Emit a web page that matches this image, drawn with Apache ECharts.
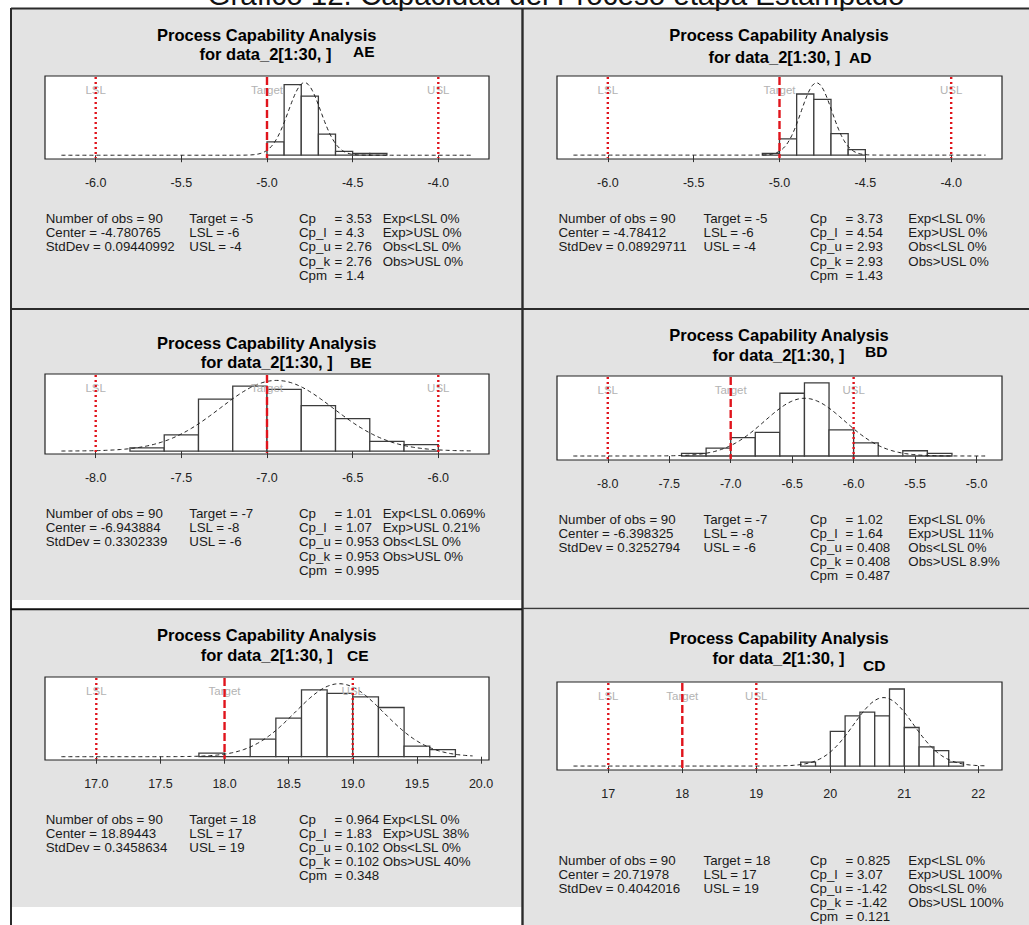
<!DOCTYPE html>
<html>
<head>
<meta charset="utf-8">
<script src="https://cdn.jsdelivr.net/npm/echarts@6/dist/echarts.min.js"></script>
<style>
  html, body { margin: 0; padding: 0; background: #ffffff; }
  #chart { width: 1029px; height: 925px; }
</style>
</head>
<body>
<div id="chart"></div>
<script>
// ---------------- data ----------------
const N_OBS = 90;
const SPEC_NAMES = ['LSL', 'Target', 'USL'];
const INDEX_NAMES = ['Cp', 'Cp_l', 'Cp_u', 'Cp_k', 'Cpm'];

// AE
const AE_BIN_START = -5.0, AE_BIN_WIDTH = 0.1;
const AE_COUNTS = [7, 37, 31, 11, 2, 1, 1];
const AE_LIMITS = [-6, -5, -4];            // LSL, Target, USL
const AE_FIT = [-4.780765, 0.09440992];    // center, std dev
const AE_TICKS = [-6, -5.5, -5, -4.5, -4];
const AE_SUMMARY = ['Number of obs = 90', 'Center = -4.780765', 'StdDev = 0.09440992'];
const AE_SPECS = ['Target = -5', 'LSL = -6', 'USL = -4'];
const AE_INDICES = ['3.53', '4.3', '2.76', '2.76', '1.4'];
const AE_PERCENTS = ['Exp<LSL 0%', 'Exp>USL 0%', 'Obs<LSL 0%', 'Obs>USL 0%'];

// AD
const AD_BIN_START = -5.1, AD_BIN_WIDTH = 0.1;
const AD_COUNTS = [1, 9, 34, 31, 12, 3];
const AD_LIMITS = [-6, -5, -4];
const AD_FIT = [-4.78412, 0.08929711];
const AD_TICKS = [-6, -5.5, -5, -4.5, -4];
const AD_SUMMARY = ['Number of obs = 90', 'Center = -4.78412', 'StdDev = 0.08929711'];
const AD_SPECS = ['Target = -5', 'LSL = -6', 'USL = -4'];
const AD_INDICES = ['3.73', '4.54', '2.93', '2.93', '1.43'];
const AD_PERCENTS = ['Exp<LSL 0%', 'Exp>USL 0%', 'Obs<LSL 0%', 'Obs>USL 0%'];

// BE
const BE_BIN_START = -7.8, BE_BIN_WIDTH = 0.2;
const BE_COUNTS = [1, 5, 16, 20, 19, 14, 10, 3, 2];
const BE_LIMITS = [-8, -7, -6];
const BE_FIT = [-6.943884, 0.3302339];
const BE_TICKS = [-8, -7.5, -7, -6.5, -6];
const BE_SUMMARY = ['Number of obs = 90', 'Center = -6.943884', 'StdDev = 0.3302339'];
const BE_SPECS = ['Target = -7', 'LSL = -8', 'USL = -6'];
const BE_INDICES = ['1.01', '1.07', '0.953', '0.953', '0.995'];
const BE_PERCENTS = ['Exp<LSL 0.069%', 'Exp>USL 0.21%', 'Obs<LSL 0%', 'Obs>USL 0%'];

// BD
const BD_BIN_START = -7.4, BD_BIN_WIDTH = 0.2;
const BD_COUNTS = [1, 3, 7, 9, 24, 28, 10, 5, 0, 2, 1];
const BD_LIMITS = [-8, -7, -6];
const BD_FIT = [-6.398325, 0.3252794];
const BD_TICKS = [-8, -7.5, -7, -6.5, -6, -5.5, -5];
const BD_SUMMARY = ['Number of obs = 90', 'Center = -6.398325', 'StdDev = 0.3252794'];
const BD_SPECS = ['Target = -7', 'LSL = -8', 'USL = -6'];
const BD_INDICES = ['1.02', '1.64', '0.408', '0.408', '0.487'];
const BD_PERCENTS = ['Exp<LSL 0%', 'Exp>USL 11%', 'Obs<LSL 0%', 'Obs>USL 8.9%'];

// CE
const CE_BIN_START = 17.8, CE_BIN_WIDTH = 0.2;
const CE_COUNTS = [1, 0, 5, 11, 19, 18, 17, 14, 3, 2];
const CE_LIMITS = [17, 18, 19];
const CE_FIT = [18.89443, 0.3458634];
const CE_TICKS = [17, 17.5, 18, 18.5, 19, 19.5, 20];
const CE_SUMMARY = ['Number of obs = 90', 'Center = 18.89443', 'StdDev = 0.3458634'];
const CE_SPECS = ['Target = 18', 'LSL = 17', 'USL = 19'];
const CE_INDICES = ['0.964', '1.83', '0.102', '0.102', '0.348'];
const CE_PERCENTS = ['Exp<LSL 0%', 'Exp>USL 38%', 'Obs<LSL 0%', 'Obs>USL 40%'];

// CD
const CD_BIN_START = 19.6, CD_BIN_WIDTH = 0.2;
const CD_COUNTS = [1, 0, 9, 13, 14, 13, 20, 10, 5, 4, 1];
const CD_LIMITS = [17, 18, 19];
const CD_FIT = [20.71978, 0.4042016];
const CD_TICKS = [17, 18, 19, 20, 21, 22];
const CD_SUMMARY = ['Number of obs = 90', 'Center = 20.71978', 'StdDev = 0.4042016'];
const CD_SPECS = ['Target = 18', 'LSL = 17', 'USL = 19'];
const CD_INDICES = ['0.825', '3.07', '-1.42', '-1.42', '0.121'];
const CD_PERCENTS = ['Exp<LSL 0%', 'Exp>USL 100%', 'Obs<LSL 0%', 'Obs>USL 100%'];

// ---------------- layout ----------------
const FONT = '"Liberation Sans", Arial, Helvetica, sans-serif';
const LEFT_COLS = [45.7, 189.3, 299, 382.7];
const RIGHT_COLS = [558.5, 703.5, 810, 908.3];

const panels = [
  { code: 'AE', start: AE_BIN_START, width: AE_BIN_WIDTH, counts: AE_COUNTS, limits: AE_LIMITS, fit: AE_FIT, ticks: AE_TICKS, digits: 1,
    summary: AE_SUMMARY, specs: AE_SPECS, indices: AE_INDICES, percents: AE_PERCENTS,
    grid: [45, 76, 444, 83], xr: [-6.296, -3.704], curve: [-6.2, -3.8], yr: [-0.22, 4.61],
    tx: 266.7, ty: [35, 54], l2x: 265.5, cx: 353, cy: 51.5, sy: 218.5, cols: LEFT_COLS },
  { code: 'AD', start: AD_BIN_START, width: AD_BIN_WIDTH, counts: AD_COUNTS, limits: AD_LIMITS, fit: AD_FIT, ticks: AD_TICKS, digits: 1,
    summary: AD_SUMMARY, specs: AD_SPECS, indices: AD_INDICES, percents: AD_PERCENTS,
    grid: [557, 76, 445, 83], xr: [-6.296, -3.704], curve: [-6.2, -3.8], yr: [-0.24, 4.89],
    tx: 779, ty: [35, 56.5], l2x: 774.5, cx: 849, cy: 57, sy: 218.5, cols: RIGHT_COLS },
  { code: 'BE', start: BE_BIN_START, width: BE_BIN_WIDTH, counts: BE_COUNTS, limits: BE_LIMITS, fit: BE_FIT, ticks: BE_TICKS, digits: 1,
    summary: BE_SUMMARY, specs: BE_SPECS, indices: BE_INDICES, percents: BE_PERCENTS,
    grid: [45, 374, 444, 80], xr: [-8.296, -5.704], curve: [-8.2, -5.8], yr: [-0.05, 1.318],
    tx: 266.7, ty: [342.5, 361.5], l2x: 266.7, cx: 350, cy: 362, sy: 513.5, cols: LEFT_COLS },
  { code: 'BD', start: BD_BIN_START, width: BD_BIN_WIDTH, counts: BD_COUNTS, limits: BD_LIMITS, fit: BD_FIT, ticks: BD_TICKS, digits: 1,
    summary: BD_SUMMARY, specs: BD_SPECS, indices: BD_INDICES, percents: BD_PERCENTS,
    grid: [557, 376, 445, 84], xr: [-8.413, -4.793], curve: [-8.28, -4.93], yr: [-0.085, 1.70],
    tx: 779, ty: [335, 355], l2x: 778.5, cx: 865, cy: 351.5, sy: 519, cols: RIGHT_COLS },
  { code: 'CE', start: CE_BIN_START, width: CE_BIN_WIDTH, counts: CE_COUNTS, limits: CE_LIMITS, fit: CE_FIT, ticks: CE_TICKS, digits: 1,
    summary: CE_SUMMARY, specs: CE_SPECS, indices: CE_INDICES, percents: CE_PERCENTS,
    grid: [45, 677, 444, 83], xr: [16.600, 20.062], curve: [16.728, 19.934], yr: [-0.052, 1.26],
    tx: 266.7, ty: [635, 655], l2x: 266.7, cx: 347, cy: 655, sy: 819, cols: LEFT_COLS },
  { code: 'CD', start: CD_BIN_START, width: CD_BIN_WIDTH, counts: CD_COUNTS, limits: CD_LIMITS, fit: CD_FIT, ticks: CD_TICKS, digits: 0,
    summary: CD_SUMMARY, specs: CD_SPECS, indices: CD_INDICES, percents: CD_PERCENTS,
    grid: [557, 682, 445, 88], xr: [16.307, 22.32], curve: [16.53, 22.10], yr: [-0.057, 1.212],
    tx: 779, ty: [637.5, 657.5], l2x: 778.5, cx: 863, cy: 665, sy: 860, cols: RIGHT_COLS }
];

// fitted normal density for the stated center and std dev
function normalDensity(x, mu, sd) {
  const z = (x - mu) / sd;
  return Math.exp(-0.5 * z * z) / (sd * Math.sqrt(2 * Math.PI));
}

const grids = [], xAxes = [], yAxes = [], series = [];
const graphics = [];
const GRAY = '#e3e3e3';
const LINE = '#2b2b2b';

// panel backgrounds and frame lines
function rect(x, y, w, h, fill) {
  graphics.push({ type: 'rect', z: -10, silent: true, shape: { x, y, width: w, height: h }, style: { fill } });
}
function hline(x1, x2, y, w, c) {
  graphics.push({ type: 'line', z: 50, silent: true, shape: { x1, y1: y, x2, y2: y }, style: { stroke: c, lineWidth: w } });
}
function vline(x, y1, y2, w, c) {
  graphics.push({ type: 'line', z: 50, silent: true, shape: { x1: x, y1, x2: x, y2 }, style: { stroke: c, lineWidth: w } });
}
rect(12, 9, 510, 299, GRAY);
rect(523, 9, 506, 299, GRAY);
rect(12, 310, 510, 290, GRAY);
rect(523, 310, 506, 298, GRAY);
rect(12, 610, 510, 297, GRAY);
rect(523, 610, 506, 315, GRAY);
hline(11, 1029, 8.5, 2, LINE);
vline(11, 8, 925, 2, LINE);
vline(522.5, 8, 925, 2.4, LINE);
hline(11, 1029, 309, 1.8, LINE);
hline(11, 522, 609.2, 2, '#111');
hline(523, 1029, 608.6, 1.5, '#3a3a3a');

// page caption (runs off the top edge)
graphics.push({ type: 'text', z: 60, silent: true, x: 556, y: 9,
  style: { text: 'Gráfico 12. Capacidad del Proceso etapa Estampado', font: '29.5px ' + FONT, fill: '#111',
    align: 'center', verticalAlign: 'bottom', textAlign: 'center', textVerticalAlign: 'bottom' } });

function txt(text, x, y, font, fill, align) {
  graphics.push({ type: 'text', z: 60, silent: true, x, y,
    style: { text, font, fill, align: align || 'left', verticalAlign: 'middle',
      textAlign: align || 'left', textVerticalAlign: 'middle' } });
}

panels.forEach((p, i) => {
  grids.push({ left: p.grid[0], top: p.grid[1], width: p.grid[2], height: p.grid[3], show: true,
    backgroundColor: '#ffffff', borderColor: '#222', borderWidth: 1.2, containLabel: false });
  xAxes.push({ gridIndex: i, type: 'value', min: p.xr[0], max: p.xr[1],
    axisLine: { show: false }, splitLine: { show: false },
    axisTick: { show: true, length: 7, lineStyle: { color: '#333', width: 1 }, customValues: p.ticks },
    axisLabel: { show: true, customValues: p.ticks, margin: 17, fontSize: 12.5, color: '#222', fontFamily: FONT,
      formatter: v => Number(v).toFixed(p.digits) } });
  yAxes.push({ gridIndex: i, type: 'value', min: p.yr[0], max: p.yr[1], show: false });

  // histogram (density scale)
  const bins = p.counts.map((c, k) => {
    const a = +(p.start + k * p.width).toFixed(4);
    return [a, +(a + p.width).toFixed(4), c / (N_OBS * p.width)];
  });
  series.push({ type: 'custom', xAxisIndex: i, yAxisIndex: i, z: 2, silent: true, animation: false,
    data: bins, encode: { x: [0, 1], y: 2 },
    renderItem: (params, api) => {
      const p0 = api.coord([api.value(0), 0]);
      const p1 = api.coord([api.value(1), api.value(2)]);
      return { type: 'rect', shape: { x: p0[0], y: p1[1], width: p1[0] - p0[0], height: p0[1] - p1[1] },
        style: { fill: '#ffffff', stroke: '#3c3c3c', lineWidth: 1.3 } };
    } });

  // fitted normal curve
  const pts = [];
  const steps = 300;
  for (let k = 0; k <= steps; k++) {
    const x = p.curve[0] + (p.curve[1] - p.curve[0]) * k / steps;
    pts.push([x, normalDensity(x, p.fit[0], p.fit[1])]);
  }
  series.push({ type: 'line', xAxisIndex: i, yAxisIndex: i, z: 3, silent: true, animation: false,
    data: pts, showSymbol: false, symbol: 'none',
    lineStyle: { color: '#1e1e1e', width: 1, type: [4, 3] } });

  // specification limits
  series.push({ type: 'custom', xAxisIndex: i, yAxisIndex: i, z: 4, silent: true, animation: false,
    data: p.limits.map((v, k) => [v, 0, k]), encode: { x: 0, y: 1 },
    renderItem: (params, api) => {
      const cs = params.coordSys;
      const x = api.coord([api.value(0), 0])[0];
      const kind = api.value(2);
      return { type: 'group', children: [
        { type: 'text', x: x, y: cs.y + 14,
          style: { text: SPEC_NAMES[kind], fill: '#b3b3b3', font: '11.5px ' + FONT,
            align: 'center', verticalAlign: 'middle', textAlign: 'center', textVerticalAlign: 'middle' } },
        { type: 'line', shape: { x1: x, y1: cs.y + 1, x2: x, y2: cs.y + cs.height - 1 },
          style: { stroke: '#e0141c', lineWidth: 2.4, lineDash: kind === 1 ? [8, 3] : [2, 3] } }
      ] };
    } });

  // titles
  txt('Process Capability Analysis', p.tx, p.ty[0], 'bold 16.5px ' + FONT, '#000', 'center');
  txt('for data_2[1:30, ]', p.l2x, p.ty[1], 'bold 16.5px ' + FONT, '#000', 'center');
  txt(p.code, p.cx, p.cy, 'bold 15.5px ' + FONT, '#000', 'left');

  // summary statistics
  const f = '13.3px ' + FONT, col = '#1a1a1a', step = 14.2;
  p.summary.forEach((s, k) => txt(s, p.cols[0], p.sy + k * step, f, col));
  p.specs.forEach((s, k) => txt(s, p.cols[1], p.sy + k * step, f, col));
  p.indices.forEach((s, k) => {
    txt(INDEX_NAMES[k], p.cols[2], p.sy + k * step, f, col);
    txt('= ' + s, p.cols[2] + 35.5, p.sy + k * step, f, col);
  });
  p.percents.forEach((s, k) => txt(s, p.cols[3], p.sy + k * step, f, col));
});

const chart = echarts.init(document.getElementById('chart'), null, { renderer: 'svg', width: 1029, height: 925 });
chart.setOption({
  animation: false,
  backgroundColor: '#ffffff',
  grid: grids,
  xAxis: xAxes,
  yAxis: yAxes,
  series: series,
  graphic: { elements: graphics }
});
</script>
</body>
</html>
